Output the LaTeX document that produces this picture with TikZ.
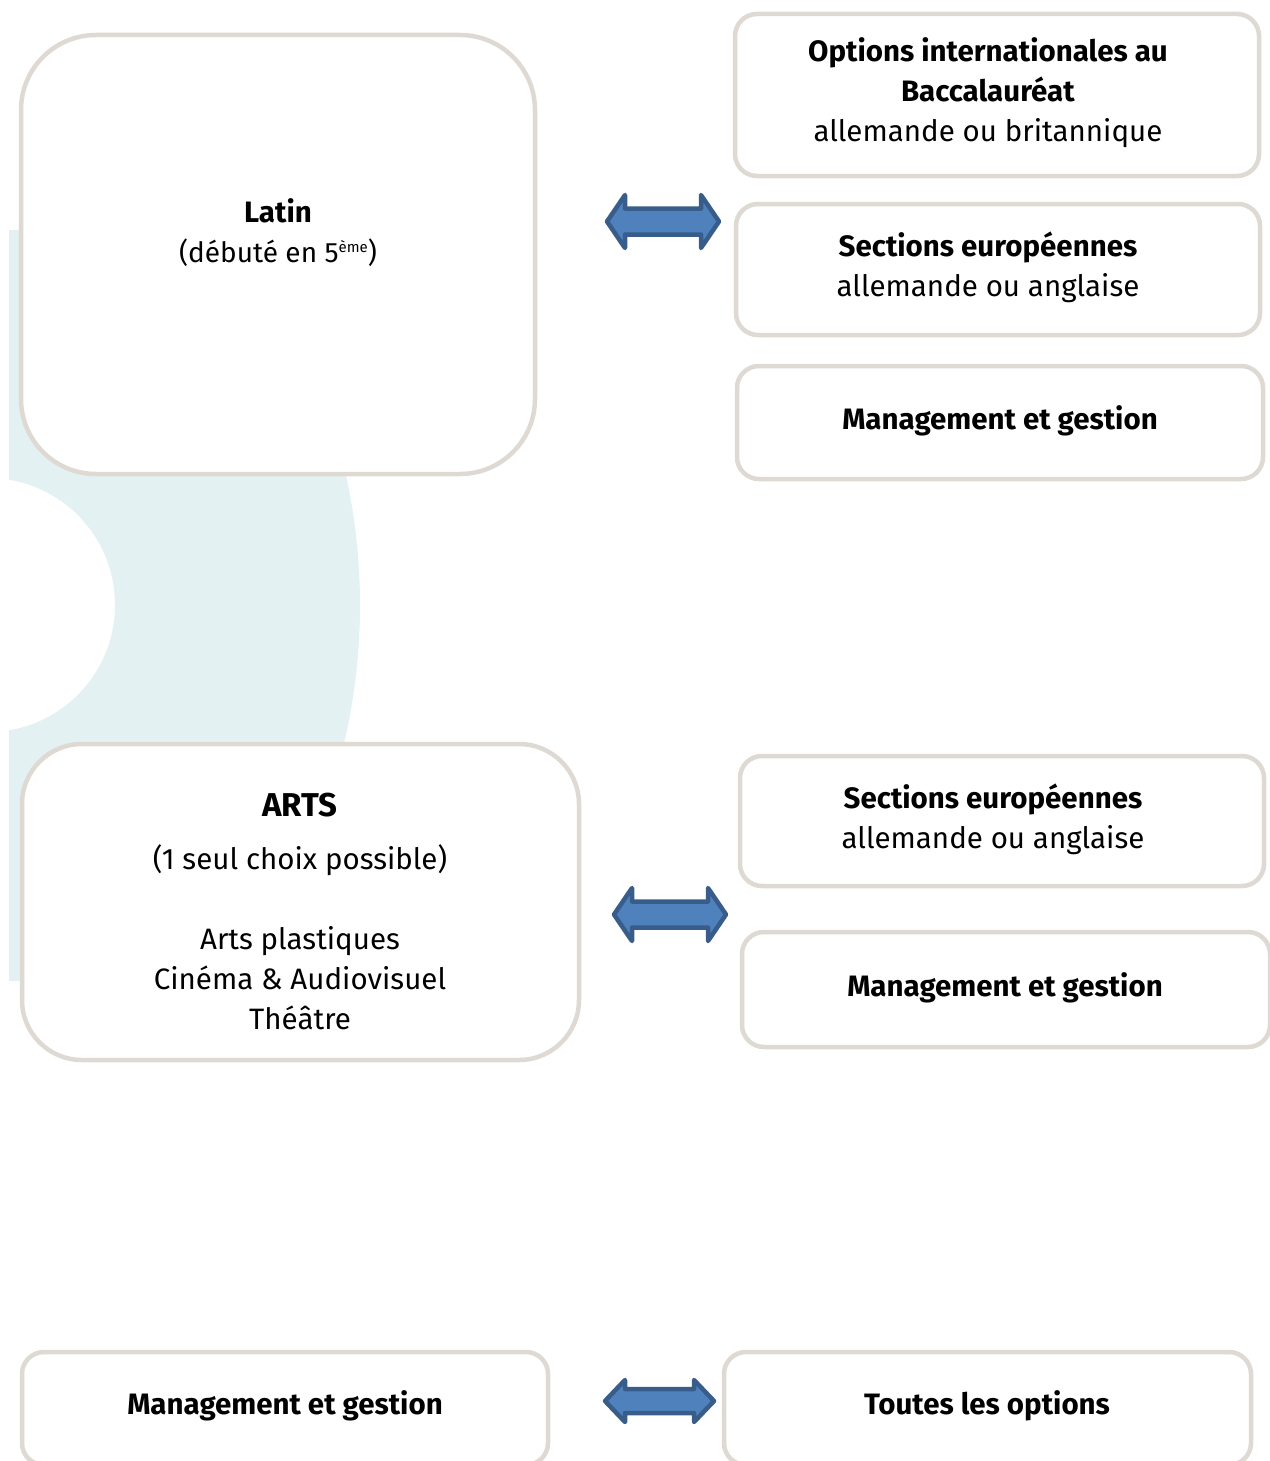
\documentclass[tikz,border=0pt]{standalone}
\usepackage{fontspec}
\setmainfont{Fira Sans}
\definecolor{boxline}{RGB}{223,217,212}
\definecolor{teal}{RGB}{227,241,242}
\definecolor{arrowfill}{RGB}{79,129,189}
\definecolor{arrowline}{RGB}{56,93,138}
\tikzset{
  box/.style={draw=boxline, line width=4.5pt, fill=white, rounded corners=#1, inner sep=0pt},
  box/.default=22pt,
  label/.style={align=center, inner sep=0pt, font=\fontsize{29.5}{40}\selectfont},
  dblarrow/.style={draw=arrowline, fill=arrowfill, line width=4.5pt, line join=round}
}
\newcommand\mysup[1]{\raisebox{10pt}{\fontsize{15}{15}\selectfont #1}}
% #1 name, #2 cx, #3 cy, #4 half length, #5 head length, #6 head half height, #7 shaft half height
\newcommand\mydblarrow[7]{%
  \coordinate (#1) at (#2,#3);
  \draw[dblarrow] ($(#1)+(-#4,0)$) -- ++(#5,#6) -- ++(0,#7-#6) -- ($(#1)+(#4-#5,#7)$)
     -- ++(0,#6-#7) -- ($(#1)+(#4,0)$) -- ++(-#5,-#6) -- ++(0,#6-#7)
     -- ($(#1)+(-#4+#5,-#7)$) -- ++(0,#7-#6) -- cycle;}
\usetikzlibrary{calc}
\begin{document}
\begin{tikzpicture}[x=1pt,y=-1pt]
\useasboundingbox (0,0) rectangle (1269,1461);
% background ring segment
\begin{scope}
  \clip (9,230) rectangle (700,980);
  \fill[teal, even odd rule] (-240,605) circle[radius=600] (-12,605) circle[radius=127];
\end{scope}
% boxes
\node[box=75pt, minimum width=514pt, minimum height=439pt] (latin) at (278,254.5) {};
\node[box, minimum width=524pt, minimum height=162pt] (oib) at (997,95) {};
\node[box, minimum width=524pt, minimum height=131pt] (se1) at (998,269.5) {};
\node[box, minimum width=526pt, minimum height=113pt] (mg1) at (1000,422.5) {};
\node[box=60pt, minimum width=557pt, minimum height=316pt] (arts) at (300.5,902) {};
\node[box, minimum width=524pt, minimum height=130pt] (se2) at (1002,821) {};
\node[box, minimum width=528pt, minimum height=115pt] (mg2) at (1006,989.5) {};
\node[box, minimum width=526pt, minimum height=113pt] (mg3) at (285,1408.5) {};
\node[box, minimum width=527pt, minimum height=113pt] (all) at (987.5,1408.5) {};
% texts
\node[label] (tlatin) at (278,232.5) {\textbf{Latin}\\{\fontsize{28}{40}\selectfont (débuté en 5\mysup{ème})}};
\node[label] (toib) at (988,92.5) {\textbf{Options internationales au}\\\textbf{Baccalauréat}\\allemande ou britannique};
\node[label] (tse1) at (988,267) {\textbf{Sections européennes}\\allemande ou anglaise};
\node[label] (tmg1) at (1000,421) {\textbf{Management et gestion}};
\node[label, font=\fontsize{33}{40}\selectfont] (tartsh) at (300,805) {\textbf{ARTS}};
\node[label] (tarts) at (300,937) {(1 seul choix possible)\\[40pt]Arts plastiques\\Cinéma \& Audiovisuel\\Théâtre};
\node[label] (tse2) at (993,819) {\textbf{Sections européennes}\\allemande ou anglaise};
\node[label] (tmg2) at (1005,988) {\textbf{Management et gestion}};
\node[label] (tmg3) at (285,1406) {\textbf{Management et gestion}};
\node[label] (tall) at (987,1406) {\textbf{Toutes les options}};
% arrows
\mydblarrow{a1}{663}{221.5}{56}{18}{26.5}{13}
\mydblarrow{a2}{670}{914.5}{56}{18}{26.5}{13}
\mydblarrow{a3}{659.5}{1401}{54.5}{20}{21}{12}
\end{tikzpicture}
\end{document}
